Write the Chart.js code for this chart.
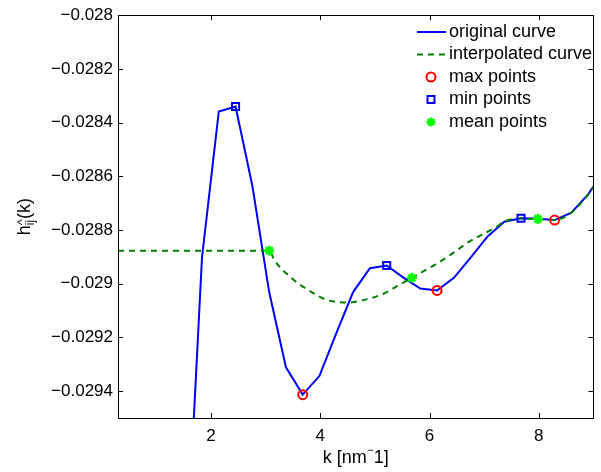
<!DOCTYPE html>
<html><head><meta charset="utf-8">
<script src="https://cdn.jsdelivr.net/npm/chart.js@4.4.0/dist/chart.umd.min.js"></script>
<style>html,body{margin:0;padding:0;background:#fff;}#wrap{width:601px;height:472px;}</style>
</head><body><div id="wrap"><canvas id="c" width="601" height="472"></canvas></div>
<script>
// ---- data ----
const kOriginal = [1.530,1.837,2.144,2.451,2.759,3.066,3.373,3.680,3.987,4.295,4.602,4.909,5.216,5.523,5.831,6.138,6.445,6.752,7.059,7.367,7.674,7.981,8.288,8.595,8.902,9.210];
const hOriginal = [-0.030130,-0.028902,-0.028359,-0.028340,-0.028636,-0.029031,-0.029311,-0.029413,-0.029343,-0.029184,-0.029031,-0.028942,-0.028932,-0.028977,-0.029018,-0.029025,-0.028978,-0.028903,-0.028825,-0.028769,-0.028756,-0.028758,-0.028763,-0.028735,-0.028667,-0.028573];
const kInterp = [0.3,3.066,3.167,3.529,3.739,3.891,4.101,4.313,4.525,4.766,5.007,5.219,5.431,5.677,5.884,6.125,6.366,6.728,7.030,7.212,7.367,7.674,7.981,8.288,8.595,8.902,9.210];
const hInterp = [-0.028877,-0.028877,-0.028914,-0.028988,-0.029018,-0.029037,-0.029059,-0.029068,-0.029070,-0.029062,-0.029049,-0.029031,-0.029006,-0.028978,-0.028954,-0.028926,-0.028895,-0.028843,-0.028810,-0.028790,-0.028769,-0.028756,-0.028759,-0.028763,-0.028735,-0.028667,-0.028573];
const kMax = [3.680,6.138,8.288];
const hMax = [-0.029413,-0.029025,-0.028763];
const kMin = [2.451,5.216,7.674];
const hMin = [-0.028340,-0.028932,-0.028756];
const kMean = [3.066,5.677,7.981];
const hMean = [-0.028877,-0.028978,-0.028759];
const xTickValues = [2,4,6,8];
const xTickLabels = ['2','4','6','8'];
const yTickValues = [-0.028,-0.0282,-0.0284,-0.0286,-0.0288,-0.029,-0.0292,-0.0294];
const yTickLabels = ['\u22120.028','\u22120.0282','\u22120.0284','\u22120.0286','\u22120.0288','\u22120.029','\u22120.0292','\u22120.0294'];
const legendLabels = ['original curve','interpolated curve','max points','min points','mean points'];
const xLabelParts = ['k [nm','\u2212','1]'];
const yLabelParts = ['h','^','ij','(k)'];

const FONT = '"Liberation Sans", Arial, Helvetica, sans-serif';
const pts = (xs, ys) => xs.map((x, i) => ({x: x, y: ys[i]}));

const frame = {
  id: 'frame',
  afterDatasetsDraw(chart) {
    const {ctx, chartArea: a, scales: {x, y}} = chart;
    ctx.save();
    ctx.strokeStyle = '#000'; ctx.lineWidth = 1;
    ctx.strokeRect(Math.round(a.left) + 0.5, Math.round(a.top) + 0.5, Math.round(a.right - a.left) - 1, Math.round(a.bottom - a.top));
    const tl = 5;
    ctx.beginPath();
    xTickValues.forEach(v => {
      const px = Math.round(x.getPixelForValue(v)) + 0.5;
      ctx.moveTo(px, a.bottom); ctx.lineTo(px, a.bottom - tl);
      ctx.moveTo(px, a.top); ctx.lineTo(px, a.top + tl);
    });
    yTickValues.forEach(v => {
      const py = Math.round(y.getPixelForValue(v)) + 0.5;
      ctx.moveTo(a.left, py); ctx.lineTo(a.left + tl, py);
      ctx.moveTo(a.right, py); ctx.lineTo(a.right - tl, py);
    });
    ctx.stroke();
    ctx.restore();
  },
  afterDraw(chart) {
    const {ctx, chartArea: a} = chart;
    ctx.save();
    ctx.fillStyle = '#000';
    // legend
    const lx0 = 417, lx1 = 446, mx = 431, tx = 449, ry0 = 32, rdy = 22.5;
    ctx.font = '18px ' + FONT; ctx.textBaseline = 'middle'; ctx.textAlign = 'left';
    legendLabels.forEach((t, i) => {
      const yy = ry0 + i * rdy;
      ctx.fillStyle = '#000';
      ctx.fillText(t, tx, yy);
      ctx.save();
      if (i === 0) {
        ctx.strokeStyle = '#0000ff'; ctx.lineWidth = 2;
        ctx.beginPath(); ctx.moveTo(lx0, yy); ctx.lineTo(lx1, yy); ctx.stroke();
      } else if (i === 1) {
        ctx.strokeStyle = '#008000'; ctx.lineWidth = 2; ctx.setLineDash([6, 5]);
        ctx.beginPath(); ctx.moveTo(lx0, yy); ctx.lineTo(lx1, yy); ctx.stroke();
      } else if (i === 2) {
        ctx.strokeStyle = '#ff0000'; ctx.lineWidth = 2;
        ctx.beginPath(); ctx.arc(mx, yy, 4.5, 0, Math.PI * 2); ctx.stroke();
      } else if (i === 3) {
        ctx.strokeStyle = '#0000ff'; ctx.lineWidth = 2;
        ctx.strokeRect(mx - 3.5, yy - 3.5, 7, 7);
      } else {
        ctx.strokeStyle = '#00ff00'; ctx.lineWidth = 2.5;
        ctx.beginPath();
        for (let k = 0; k < 4; k++) {
          const ang = k * Math.PI / 4;
          ctx.moveTo(mx - 4.5 * Math.cos(ang), yy - 4.5 * Math.sin(ang));
          ctx.lineTo(mx + 4.5 * Math.cos(ang), yy + 4.5 * Math.sin(ang));
        }
        ctx.stroke();
      }
      ctx.restore();
    });
    // x label
    ctx.fillStyle = '#000'; ctx.textBaseline = 'alphabetic';
    const big = '18px ' + FONT, small = '12px ' + FONT;
    ctx.font = big; const w0 = ctx.measureText(xLabelParts[0]).width, w2 = ctx.measureText(xLabelParts[2]).width;
    ctx.font = small; const w1 = ctx.measureText(xLabelParts[1]).width;
    let sx = (a.left + a.right) / 2 - (w0 + w1 + w2) / 2;
    const by = 463;
    ctx.font = big; ctx.fillText(xLabelParts[0], sx, by);
    ctx.font = small; ctx.fillText(xLabelParts[1], sx + w0, by - 9);
    ctx.font = big; ctx.fillText(xLabelParts[2], sx + w0 + w1, by);
    // y label
    ctx.save();
    ctx.translate(30, (a.top + a.bottom) / 2);
    ctx.rotate(-Math.PI / 2);
    ctx.font = big; const wh = ctx.measureText(yLabelParts[0]).width, wk = ctx.measureText(yLabelParts[3]).width;
    ctx.font = '13px ' + FONT; const ws = Math.max(ctx.measureText(yLabelParts[1]).width, ctx.measureText(yLabelParts[2]).width);
    const x0 = -(wh + ws + wk) / 2;
    ctx.font = big; ctx.fillText(yLabelParts[0], x0, 0);
    ctx.font = '13px ' + FONT; ctx.fillText(yLabelParts[1], x0 + wh, -4);
    ctx.font = small; ctx.fillText(yLabelParts[2], x0 + wh, 3.5);
    ctx.font = big; ctx.fillText(yLabelParts[3], x0 + wh + ws, 0);
    ctx.restore();
    ctx.restore();
  }
};

new Chart(document.getElementById('c'), {
  type: 'line',
  data: {
    datasets: [
      {label: legendLabels[0], data: pts(kOriginal, hOriginal), borderColor: '#0000ff', borderWidth: 2, pointRadius: 0, fill: false, tension: 0, order: 3, clip: 0},
      {label: legendLabels[1], data: pts(kInterp, hInterp), borderColor: '#008000', borderWidth: 2, borderDash: [6, 5], pointRadius: 0, fill: false, cubicInterpolationMode: 'monotone', order: 2, clip: 0},
      {label: legendLabels[2], data: pts(kMax, hMax), showLine: false, pointStyle: 'circle', pointRadius: 4.5, borderColor: '#ff0000', backgroundColor: 'rgba(0,0,0,0)', pointBorderWidth: 2, order: 1},
      {label: legendLabels[3], data: pts(kMin, hMin), showLine: false, pointStyle: 'rect', pointRadius: 5, borderColor: '#0000ff', backgroundColor: 'rgba(0,0,0,0)', pointBorderWidth: 2, order: 1},
      {label: legendLabels[4], data: pts(kMean, hMean), showLine: false, pointStyle: 'star', pointRadius: 5, borderColor: '#00ff00', backgroundColor: '#00ff00', pointBorderWidth: 2.5, order: 0}
    ]
  },
  options: {
    responsive: false, animation: false, devicePixelRatio: 1,
    layout: {padding: {top: 13, right: 1, left: 0, bottom: 0}},
    plugins: {legend: {display: false}, tooltip: {enabled: false}},
    scales: {
      x: {
        type: 'linear', min: 0.3, max: 9,
        grid: {display: false, drawTicks: false}, border: {display: false},
        afterBuildTicks: s => { s.ticks = xTickValues.map(v => ({value: v})); },
        afterFit: s => { s.height = 54; },
        ticks: {color: '#000', font: {family: FONT, size: 17}, padding: 8, maxRotation: 0,
          callback: (v, i) => xTickLabels[i]}
      },
      y: {
        type: 'linear', min: -0.0295, max: -0.028,
        grid: {display: false, drawTicks: false}, border: {display: false},
        afterBuildTicks: s => { s.ticks = yTickValues.map(v => ({value: v})); },
        afterFit: s => { s.width = 118; },
        ticks: {color: '#000', font: {family: FONT, size: 17}, padding: 5,
          callback: (v, i) => yTickLabels[i]}
      }
    }
  },
  plugins: [frame]
});
</script></body></html>
